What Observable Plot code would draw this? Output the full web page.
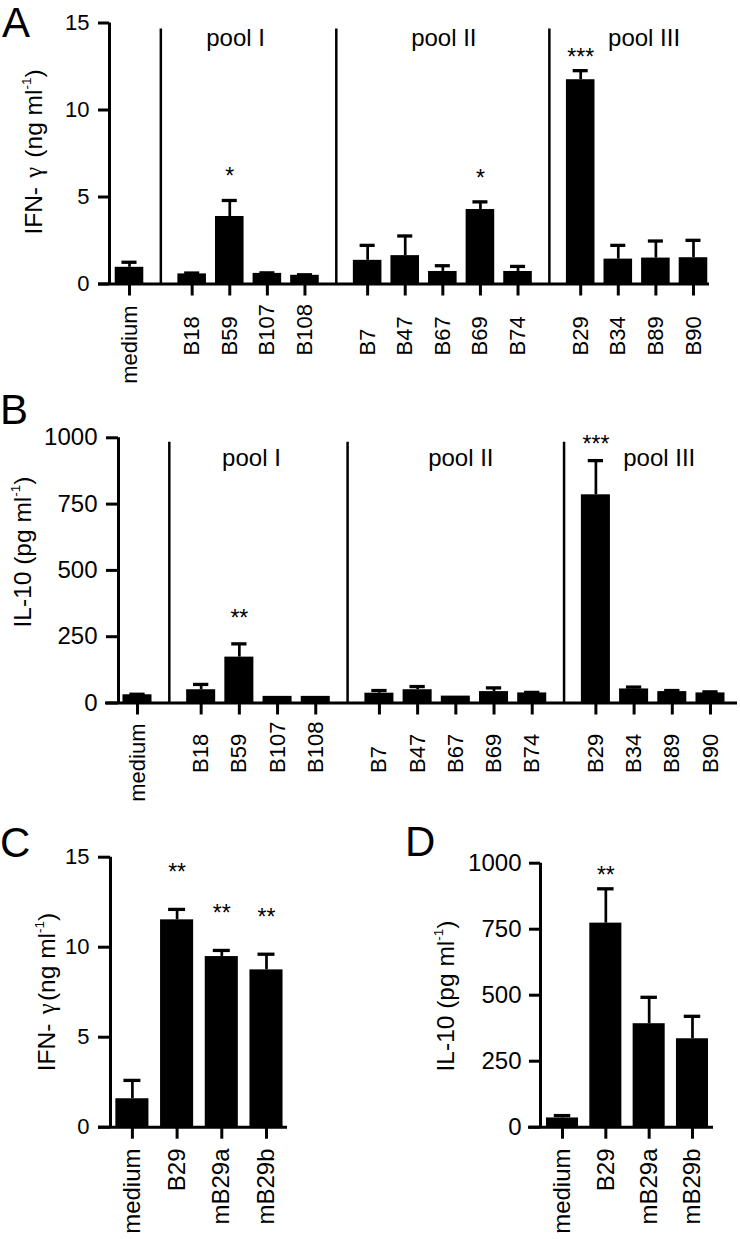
<!DOCTYPE html>
<html>
<head>
<meta charset="utf-8">
<script src="https://cdn.jsdelivr.net/npm/d3@7"></script>
<script src="https://cdn.jsdelivr.net/npm/@observablehq/plot@0.6"></script>
<style>
  body { margin: 0; background: #fff; }
  #root { position: relative; width: 740px; height: 1239px; overflow: hidden; background: #fff;
          font-family: "Liberation Sans", Arial, Helvetica, sans-serif; color: #000; }
  .panel { position: absolute; }
  .letter { position: absolute; font-size: 42px; line-height: 1; }
  .ytitle { position: absolute; white-space: nowrap; font-size: 24.5px; line-height: 1;
            transform: translate(-50%, -50%) rotate(-90deg); }
  .ytitle sup { font-size: 0.55em; position: relative; top: -0.15em; vertical-align: super; line-height: 0; }
  .gamma { font-family: "Liberation Serif", "DejaVu Serif", serif; padding: 0 0.1em; }
</style>
</head>
<body>
<div id="root"></div>
<script>
// ---------------- data ----------------
const namesAB = ["medium", "B18", "B59", "B107", "B108", "B7", "B47", "B67", "B69", "B74", "B29", "B34", "B89", "B90"];
const poolOfAB = [0, 1, 1, 1, 1, 2, 2, 2, 2, 2, 3, 3, 3, 3];
const poolNames = ["pool I", "pool II", "pool III"];

const ifnA = [0.96, 0.58, 3.88, 0.61, 0.50, 1.36, 1.63, 0.72, 4.28, 0.72, 11.74, 1.43, 1.49, 1.51];
const ifnAErr = [0.29, 0.05, 0.92, 0.03, 0.03, 0.86, 1.13, 0.33, 0.44, 0.29, 0.52, 0.79, 0.98, 1.00];
const ifnAStars = ["", "", "*", "", "", "", "", "", "*", "", "***", "", "", ""];

const il10B = [31, 50, 173, 25, 25, 37, 50, 26, 43, 38, 785, 53, 43, 38];
const il10BErr = [2, 20, 50, 0, 0, 10, 12, 0, 14, 2, 129, 7, 4, 4];
const il10BStars = ["", "", "**", "", "", "", "", "", "", "", "***", "", "", ""];

const namesCD = ["medium", "B29", "mB29a", "mB29b"];
const groupCD = [0, 0, 0, 0];
const ifnC = [1.58, 11.52, 9.48, 8.74];
const ifnCErr = [1.02, 0.58, 0.34, 0.87];
const ifnCStars = ["", "**", "**", "**"];

const il10D = [35, 773, 392, 335];
const il10DErr = [9, 130, 100, 85];
const il10DStars = ["", "**", "", ""];

const ticksIFN = [0, 5, 10, 15];
const ticksIL10 = [0, 250, 500, 750, 1000];

// ---------------- drawing ----------------
const root = document.getElementById("root");

function panel(cfg) {
  const names = cfg.names;
  const n = names.length;
  const pos = names.map((_, i) => i + cfg.gap * cfg.groups[i]);
  const rows = names.map((name, i) => ({
    name, pos: pos[i], mean: cfg.mean[i], err: cfg.err[i],
    top: cfg.mean[i] + cfg.err[i], star: cfg.stars[i], group: cfg.groups[i]
  }));
  const x0 = pos[0] - cfg.padL, x1 = pos[n - 1] + cfg.padR;
  const inner = cfg.width - cfg.ml - cfg.mr;
  const slot = inner / (x1 - x0);
  const yMax = cfg.yTicks[cfg.yTicks.length - 1];
  const marks = [];

  if (cfg.pools) {
    const gs = d3.groups(rows, d => d.group).map(([g, rs]) => ({g, first: rs[0].pos, last: rs[rs.length - 1].pos}));
    const dividers = [];
    for (let k = 1; k < gs.length; k++) dividers.push((gs[k - 1].last + gs[k].first) / 2);
    marks.push(Plot.ruleX(dividers, {x: d => d, y1: () => 0, y2: () => yMax * cfg.divTop, strokeWidth: 2.5}));
    const poolRows = gs.slice(1).map((g, k) => ({name: cfg.pools[k], x: (g.first + g.last) / 2 + cfg.poolDx[k] / slot}));
    marks.push(Plot.text(poolRows, {x: "x", y: () => yMax * cfg.poolY, text: "name", lineAnchor: "bottom", fontSize: cfg.poolFont}));
  }

  // bars
  marks.push(Plot.rect(rows, {x1: d => d.pos - cfg.barHalf, x2: d => d.pos + cfg.barHalf, y1: () => 0, y2: "mean", fill: "black"}));
  // error bars (upper only)
  const withErr = rows.filter(d => d.err > 0);
  marks.push(Plot.ruleX(withErr, {x: "pos", y1: "mean", y2: "top", strokeWidth: 2.7}));
  marks.push(Plot.ruleY(withErr, {y: "top", x1: d => d.pos - cfg.capHalf, x2: d => d.pos + cfg.capHalf, strokeWidth: 3.3}));

  // axes
  marks.push(Plot.ruleX([x0], {x: d => d, strokeWidth: 3}));
  marks.push(Plot.ruleY([0], {y: d => d, insetLeft: -cfg.ext, strokeWidth: 3}));
  marks.push(Plot.axisY({ticks: cfg.yTicks, tickSize: cfg.tickSize, tickPadding: cfg.tickPad,
    tickFormat: d => String(d), label: null, strokeWidth: 3, fontSize: cfg.tickFont}));
  marks.push(Plot.axisX({ticks: pos, tickSize: 12, tickFormat: () => "", label: null, strokeWidth: 3}));

  // category labels (rotated)
  const isTop = d => cfg.allTop || d.name === "medium";
  const topRows = rows.filter(isTop);
  const botRows = rows.filter(d => !isTop(d));
  marks.push(Plot.text(topRows, {x: "pos", y: () => 0, text: "name", rotate: -90, textAnchor: "end", dy: cfg.labelTop, fontSize: cfg.labelFont}));
  if (botRows.length)
    marks.push(Plot.text(botRows, {x: "pos", y: () => 0, text: "name", rotate: -90, textAnchor: "start", dy: cfg.labelBottom, fontSize: cfg.labelFont}));

  // significance stars
  const starRows = rows.filter(d => d.star);
  const dyOf = d => (cfg.starDy[d.name] !== undefined ? cfg.starDy[d.name] : cfg.starDy.default);
  for (const dy of new Set(starRows.map(dyOf))) {
    marks.push(Plot.text(starRows.filter(d => dyOf(d) === dy), {x: "pos", y: "top", text: "star", dy, lineAnchor: "bottom", fontSize: cfg.starFont}));
  }

  const svg = Plot.plot({
    width: cfg.width, height: cfg.height,
    marginLeft: cfg.ml, marginRight: cfg.mr, marginTop: cfg.mt, marginBottom: cfg.mb,
    x: {type: "linear", domain: [x0, x1]},
    y: {type: "linear", domain: [0, yMax]},
    style: {fontFamily: '"Liberation Sans", Arial, Helvetica, sans-serif', fontSize: cfg.tickFont + "px",
            background: "transparent", color: "black", overflow: "visible", maxWidth: "none"},
    marks
  });
  const div = document.createElement("div");
  div.className = "panel";
  div.style.left = cfg.left + "px";
  div.style.top = cfg.top + "px";
  div.style.width = cfg.width + "px";
  div.style.height = cfg.height + "px";
  div.appendChild(svg);
  root.appendChild(div);
}

function addLetter(t, left, top) {
  const d = document.createElement("div");
  d.className = "letter";
  d.textContent = t;
  d.style.left = left + "px";
  d.style.top = top + "px";
  root.appendChild(d);
}
function addTitle(html, cx, cy) {
  const d = document.createElement("div");
  d.className = "ytitle";
  d.innerHTML = html;
  d.style.left = cx + "px";
  d.style.top = cy + "px";
  root.appendChild(d);
}

// Panel A
panel({names: namesAB, groups: poolOfAB, mean: ifnA, err: ifnAErr, stars: ifnAStars, yTicks: ticksIFN,
  pools: poolNames, gap: 0.667, left: 0, top: 0, width: 740, height: 390, ml: 109, mr: 31, mt: 22.5, mb: 106.5,
  padL: 0.532, padR: 0.426, barHalf: 0.38, capHalf: 0.2, tickFont: 22, tickSize: 11, tickPad: 9, ext: 11,
  divTop: 0.977, poolY: 0.913, poolDx: [-13, 1, 7], poolFont: 24, labelFont: 22, labelTop: 21.5, labelBottom: 71.5,
  starDy: {default: -16, B29: -6}, starFont: 23});

// Panel B
panel({names: namesAB, groups: poolOfAB, mean: il10B, err: il10BErr, stars: il10BStars, yTicks: ticksIL10,
  pools: poolNames, gap: 0.667, left: 0, top: 400, width: 740, height: 410, ml: 118, mr: 3, mt: 37.3, mb: 107.5,
  padL: 0.497, padR: 0.707, barHalf: 0.38, capHalf: 0.2, tickFont: 24, tickSize: 12, tickPad: 9, ext: 13,
  divTop: 0.983, poolY: 0.895, poolDx: [-7, 5, 6], poolFont: 24, labelFont: 22, labelTop: 20.5, labelBottom: 70,
  starDy: {default: -18, B29: -8.5}, starFont: 23});

// Panel C
panel({names: namesCD, groups: groupCD, mean: ifnC, err: ifnCErr, stars: ifnCStars, yTicks: ticksIFN,
  gap: 0, left: 0, top: 815, width: 370, height: 424, ml: 110, mr: 83, mt: 41.7, mb: 112.3,
  padL: 0.49, padR: 0.47, barHalf: 0.37, capHalf: 0.19, tickFont: 22, tickSize: 12, tickPad: 9, ext: 12,
  allTop: true, labelFont: 24, labelTop: 21.3, starDy: {default: -29}, starFont: 23});

// Panel D
panel({names: namesCD, groups: groupCD, mean: il10D, err: il10DErr, stars: il10DStars, yTicks: ticksIL10,
  gap: 0, left: 370, top: 815, width: 370, height: 424, ml: 170, mr: 27, mt: 47.7, mb: 112.3,
  padL: 0.508, padR: 0.485, barHalf: 0.37, capHalf: 0.19, tickFont: 24, tickSize: 11, tickPad: 8, ext: 12,
  allTop: true, labelFont: 24, labelTop: 21.3, starDy: {default: -6}, starFont: 23});

// panel letters
addLetter("A", 2, 2);
addLetter("B", 0, 389);
addLetter("C", 0, 822);
addLetter("D", 405, 821);

// y-axis titles
const ifnTitleA = 'IFN- <span class="gamma">γ</span> (ng ml<sup>-1</sup>)';
const ifnTitleC = 'IFN- <span class="gamma">γ</span>(ng ml<sup>-1</sup>)';
const il10Title = 'IL-10 (pg ml<sup>-1</sup>)';
addTitle(ifnTitleA, 34, 152);
addTitle(il10Title, 22.5, 552);
addTitle(ifnTitleC, 47, 992);
addTitle(il10Title, 446, 996);
</script>
</body>
</html>
